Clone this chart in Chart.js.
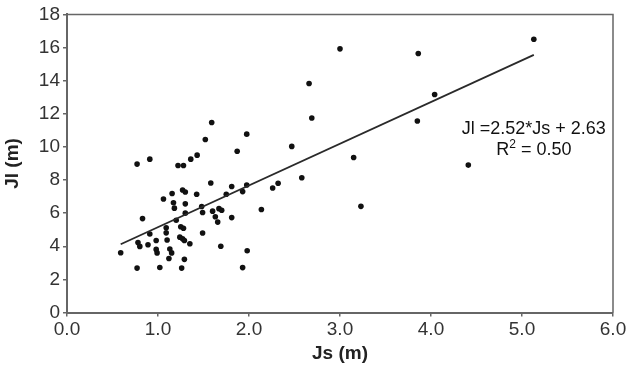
<!DOCTYPE html>
<html>
<head>
<meta charset="utf-8">
<script src="https://cdn.jsdelivr.net/npm/chart.js@4.4.1/dist/chart.umd.min.js"></script>
<style>
  html, body { margin: 0; padding: 0; background: #fff; }
  #chart { display: block; }
</style>
</head>
<body>
<canvas id="chart" width="630" height="366"></canvas>
<script>
const jsValues = [
  0.59, 0.77, 0.78, 0.80, 0.77, 0.83, 0.89, 0.91, 0.91, 0.98,
  0.98, 0.99, 1.02, 1.06, 1.09, 1.09, 1.10, 1.12, 1.13, 1.15,
  1.155, 1.17, 1.18, 1.20, 1.22, 1.28, 1.24, 1.25, 1.27, 1.28,
  1.26, 1.27, 1.30, 1.30, 1.30, 1.29, 1.29, 1.35, 1.36, 1.43,
  1.425, 1.48, 1.49, 1.49, 1.52, 1.59, 1.58, 1.60, 1.63, 1.656,
  1.67, 1.70, 1.69, 1.75, 1.81, 1.81, 1.87, 1.93, 1.975, 1.975,
  1.98, 1.93, 2.136, 2.26, 2.32, 2.47, 2.58, 2.66, 2.69, 3.00,
  3.15, 3.23, 3.85, 3.86, 4.04, 4.41, 5.13
]
const jlValues = [
  3.61, 2.68, 4.22, 3.99, 8.96, 5.67, 4.09, 9.26, 4.74, 4.35,
  3.81, 3.60, 2.72, 6.85, 5.12, 4.81, 4.38, 3.26, 3.83, 3.60,
  7.19, 6.63, 6.30, 5.57, 8.88, 8.88, 4.55, 5.18, 4.45, 5.09,
  2.68, 7.40, 7.28, 6.56, 6.00, 4.35, 3.21, 4.15, 9.26, 9.50,
  7.14, 6.40, 6.04, 4.80, 10.45, 11.47, 7.82, 6.12, 5.78, 5.46,
  6.27, 6.17, 4.00, 7.14, 7.61, 5.73, 9.74, 7.30, 7.70, 10.77,
  3.73, 2.71, 6.22, 7.52, 7.80, 10.03, 8.14, 13.83, 11.74, 15.92,
  9.36, 6.41, 11.56, 15.64, 13.16, 8.90, 16.50
]

// fitted line end points (Jl = 2.52*Js + 2.63)
const fitJs = [0.59, 5.13]
const fitJl = [4.12, 15.56]

const xTickLabels = ["0.0", "1.0", "2.0", "3.0", "4.0", "5.0", "6.0"]
const yTickLabels = ["0", "2", "4", "6", "8", "10", "12", "14", "16", "18"]

const equationText = "Jl =2.52*Js + 2.63"
const r2Text = ["R", "2", " = 0.50"]

const axisColor = "#666"
const textColor = "#333"
const fontFamily = "'Liberation Sans', Arial, Helvetica, sans-serif"

const frame = {
  id: "frame",
  afterDraw(chart) {
    const a = chart.chartArea
    const c = chart.ctx
    c.save()
    c.strokeStyle = axisColor
    c.lineWidth = 1.5
    c.beginPath()
    c.moveTo(a.left, a.top)
    c.lineTo(a.right, a.top)
    c.lineTo(a.right, a.bottom)
    c.stroke()
    c.restore()
  }
}

const equation = {
  id: "equation",
  afterDraw(chart) {
    const c = chart.ctx
    const cx = chart.scales.x.getPixelForValue(5.13)
    const y1 = chart.scales.y.getPixelForValue(10.77)
    const y2 = chart.scales.y.getPixelForValue(9.52)
    c.save()
    c.fillStyle = "#111"
    c.textBaseline = "alphabetic"
    c.font = "18px " + fontFamily
    c.textAlign = "center"
    c.fillText(equationText, cx, y1)

    // R^2 line with a raised small 2
    const big = "18px " + fontFamily
    const small = "12px " + fontFamily
    c.font = big
    const wR = c.measureText(r2Text[0]).width
    const wRest = c.measureText(r2Text[2]).width
    c.font = small
    const w2 = c.measureText(r2Text[1]).width
    let x = cx - (wR + w2 + wRest) / 2
    c.textAlign = "left"
    c.font = big
    c.fillText(r2Text[0], x, y2)
    x += wR
    c.font = small
    c.fillText(r2Text[1], x, y2 - 7)
    x += w2
    c.font = big
    c.fillText(r2Text[2], x, y2)
    c.restore()
  }
}

const points = jsValues.map((v, i) => ({ x: v, y: jlValues[i] }))
const fitLine = fitJs.map((v, i) => ({ x: v, y: fitJl[i] }))

new Chart(document.getElementById("chart"), {
  type: "scatter",
  data: {
    datasets: [
      {
        type: "line",
        data: fitLine,
        borderColor: "#2a2a2a",
        borderWidth: 1.8,
        pointRadius: 0,
        fill: false
      },
      {
        data: points,
        backgroundColor: "#111",
        borderColor: "#111",
        pointRadius: 2.8,
        borderWidth: 0
      }
    ]
  },
  options: {
    responsive: false,
    animation: false,
    layout: { padding: { top: 11, right: 17, left: 0, bottom: 0 } },
    plugins: {
      legend: { display: false },
      tooltip: { enabled: false }
    },
    scales: {
      x: {
        type: "linear",
        min: 0,
        max: 6,
        afterFit(s) { s.height = 53.5 },
        ticks: {
          stepSize: 1,
          color: textColor,
          padding: 2,
          font: { family: fontFamily, size: 19 },
          callback: (v) => xTickLabels[Math.round(v)]
        },
        grid: { drawOnChartArea: false, tickLength: 4, color: axisColor, lineWidth: 1.5 },
        border: { color: axisColor, width: 2 },
        title: {
          display: true,
          text: "Js (m)",
          color: "#222",
          padding: { top: 0, bottom: 1 },
          font: { family: fontFamily, size: 19, weight: "bold" }
        }
      },
      y: {
        min: 0,
        max: 18,
        afterFit(s) { s.width = 67 },
        ticks: {
          stepSize: 2,
          color: textColor,
          padding: 3,
          font: { family: fontFamily, size: 19 },
          callback: (v) => yTickLabels[Math.round(v / 2)]
        },
        grid: { drawOnChartArea: false, tickLength: 4, color: axisColor, lineWidth: 1.5 },
        border: { color: axisColor, width: 2 },
        title: {
          display: true,
          text: "Jl (m)",
          color: "#222",
          padding: { top: 1, bottom: 0 },
          font: { family: fontFamily, size: 19, weight: "bold" }
        }
      }
    }
  },
  plugins: [frame, equation]
})
</script>
</body>
</html>
